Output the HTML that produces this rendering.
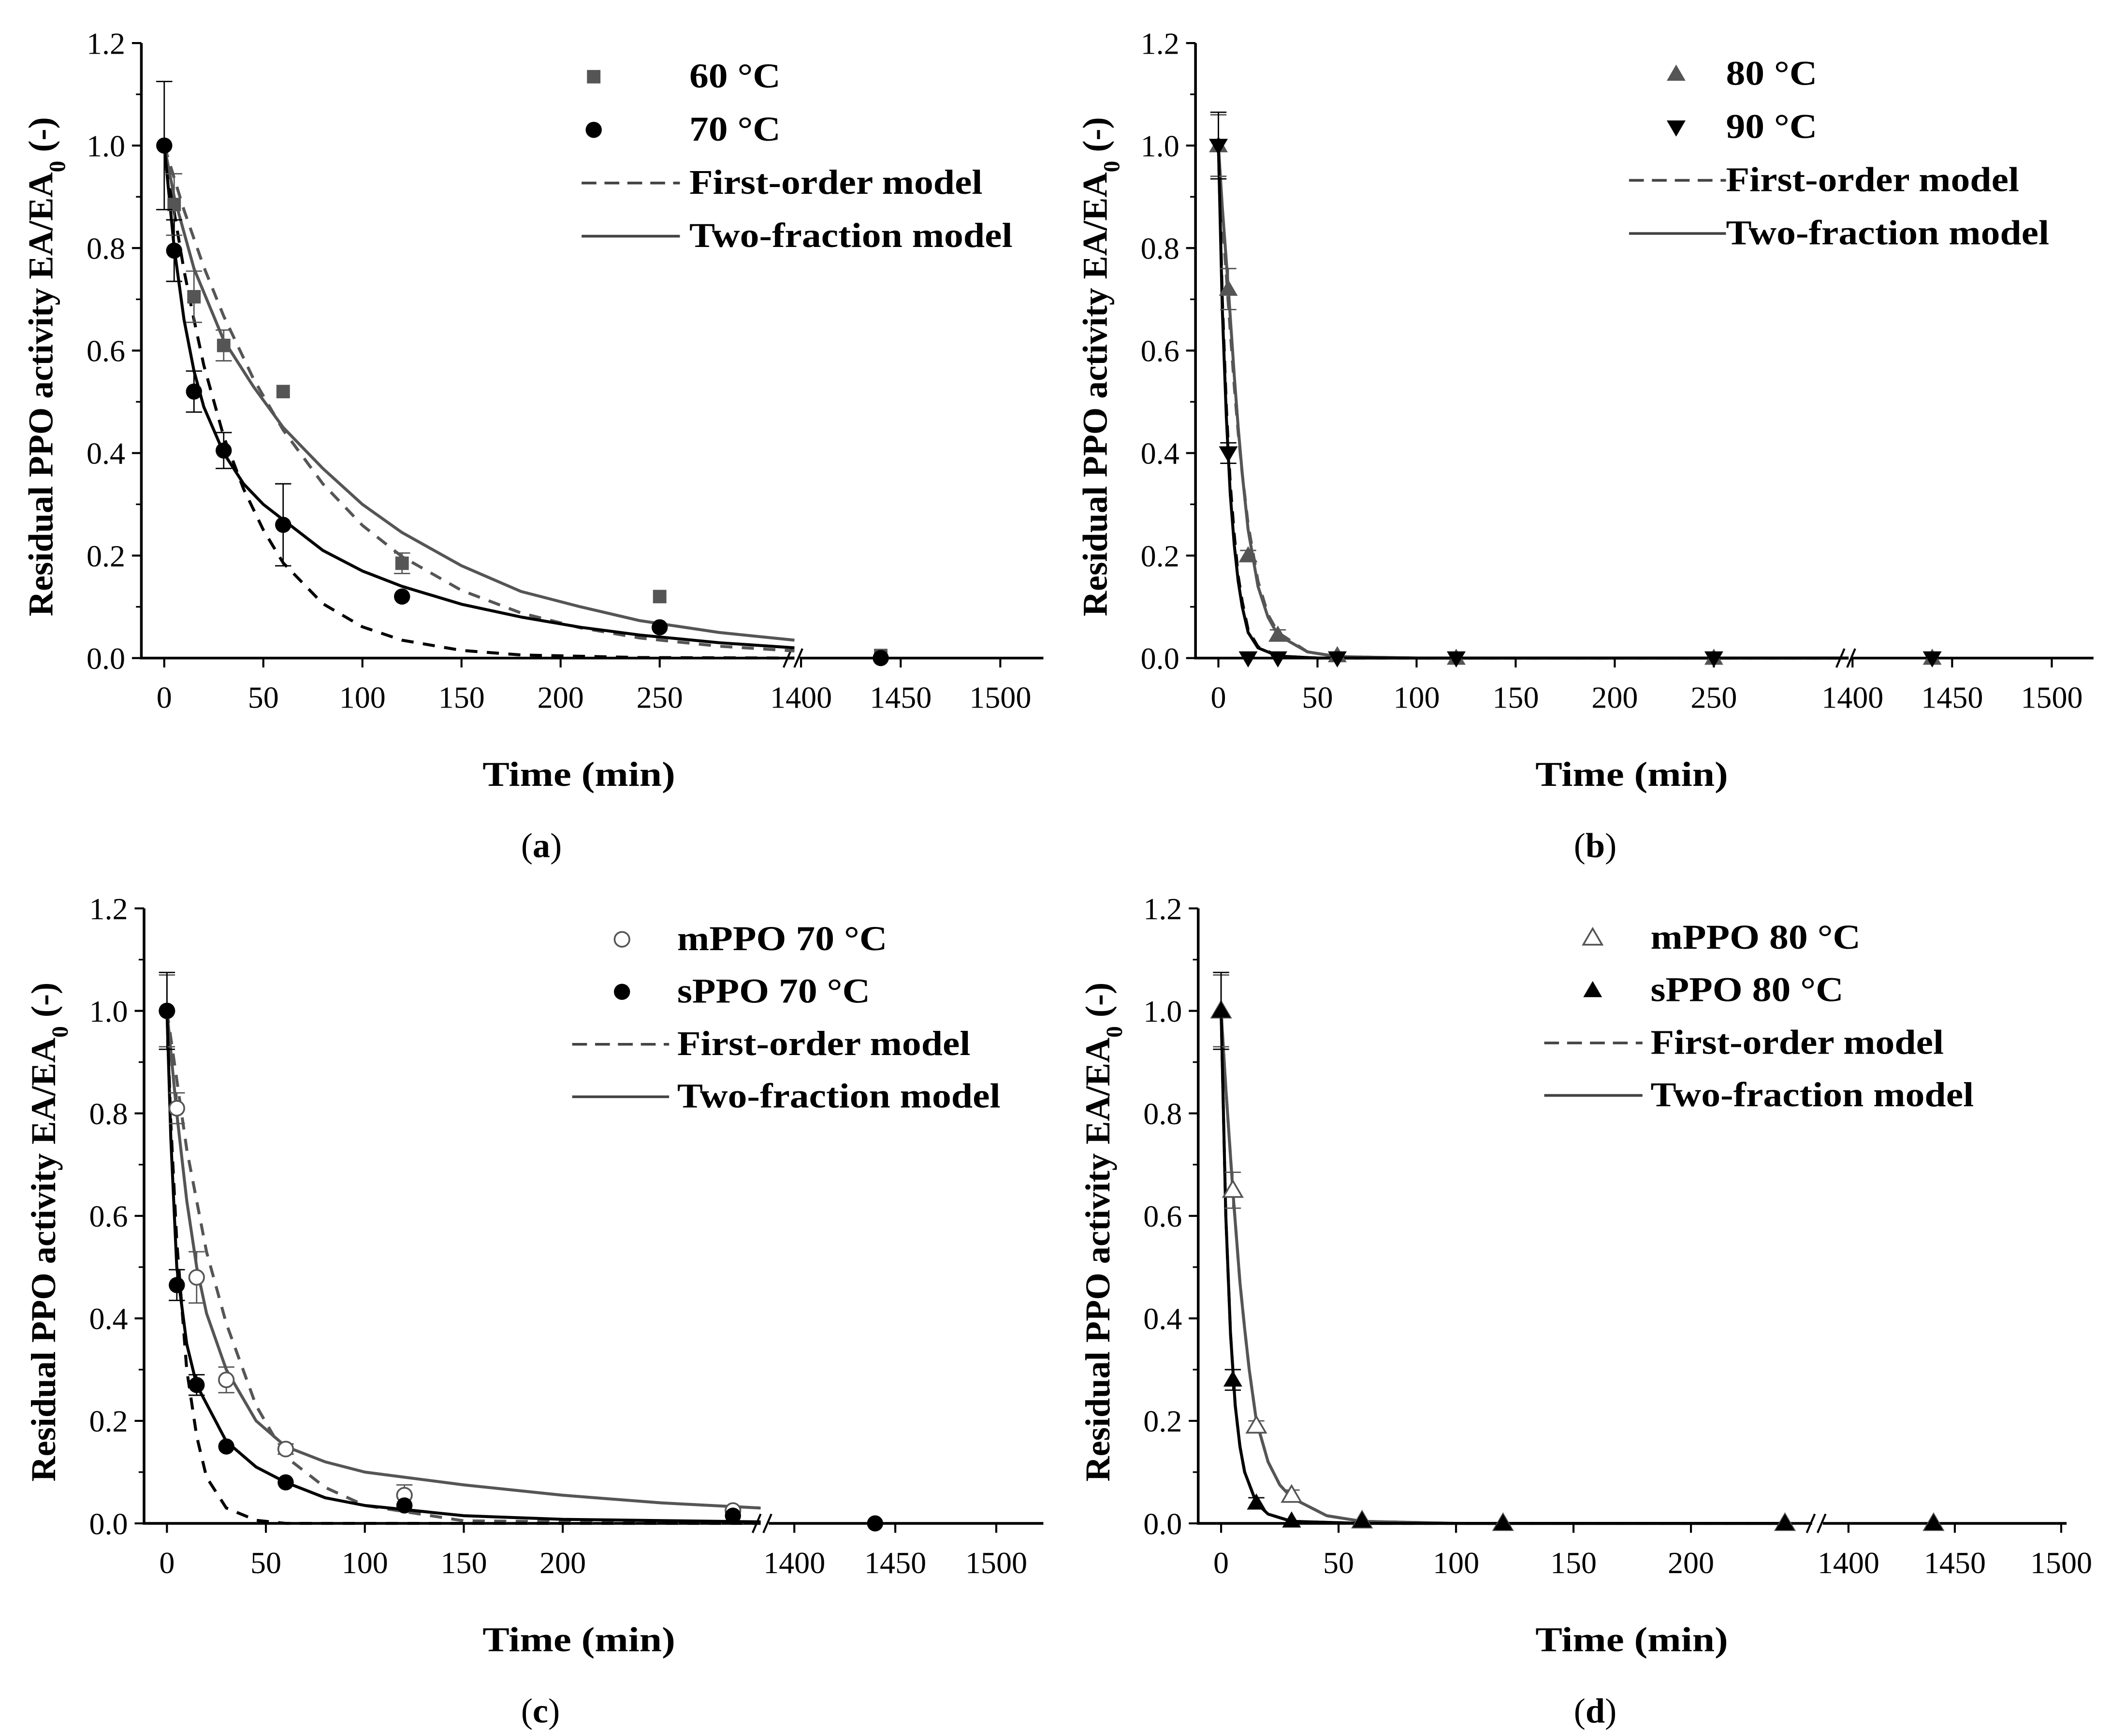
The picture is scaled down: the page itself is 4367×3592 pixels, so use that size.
<!DOCTYPE html>
<html><head><meta charset="utf-8">
<style>
html,body{margin:0;padding:0;background:#fff;}
svg{display:block;}
text{font-family:"Liberation Serif",serif;}
</style></head>
<body>
<svg id="fig" width="4367" height="3592" viewBox="0 0 1568 1290" preserveAspectRatio="none" xmlns="http://www.w3.org/2000/svg"></svg>
<script>
// ---------- DATA ----------
const aTimes60=[5,15,30,60,120,250,1440];
const aVals60=[0.885,0.705,0.61,0.52,0.185,0.12,0.005];
const aErr60=[0.06,0.05,0.03,0,0.02,0,0];
const aTimes70=[0,5,15,30,60,120,250,1440];
const aVals70=[1.0,0.795,0.52,0.405,0.26,0.12,0.06,0.0];
const aErr70=[0.125,0.06,0.04,0.035,0.08,0,0,0];
const aFoT60=[0,10,20,30,45,60,80,100,120,150,180,210,240,280,318];
const aFoV60=[1,.874,.763,.667,.545,.445,.34,.259,.198,.132,.088,.059,.039,.023,.014];
const aFoT70=[0,5,10,15,20,30,40,50,60,80,100,120,150,180,240,318];
const aFoV70=[1,.87,.756,.66,.571,.432,.33,.25,.186,.106,.061,.035,.015,.006,.001,0];
const aTfT60=[0,5,15,30,45,60,80,100,120,150,180,210,240,280,318];
const aTfV60=[1,.9,.76,.62,.53,.45,.37,.3,.245,.18,.13,.1,.073,.05,.035];
const aTfT70=[0,5,10,15,20,30,40,50,60,80,100,120,150,180,210,240,280,318];
const aTfV70=[1,.8,.66,.56,.49,.4,.34,.3,.27,.21,.17,.14,.105,.08,.06,.045,.03,.02];

const bTimes80=[0,5,15,30,60,120,250,1440];
const bVals80=[1.0,0.72,0.2,0.045,0.005,0,0,0];
const bErr80=[0.06,0.04,0.01,0.01,0,0,0,0];
const bTimes90=[0,5,15,30,60,120,250,1440];
const bVals90=[1.0,0.4,0.0,0.0,0,0,0,0];
const bErr90=[0.065,0.02,0,0,0,0,0,0];
const bTfT80=[0,2,5,8,10,12,15,20,25,30,45,60,100,318];
const bTfV80=[1,.88,.72,.55,.45,.36,.25,.14,.08,.045,.012,.003,0,0];
const bTfT90=[0,2,4,6,8,10,12,15,20,30,50,318];
const bTfV90=[1,.68,.47,.32,.22,.15,.1,.05,.02,.004,0,0];
const bFoV80=[1,.86,.69,.53,.44,.36,.26,.15,.085,.05,.012,.003,0,0];
const bFoV90=[1,.7,.49,.34,.24,.16,.11,.055,.022,.004,0,0];

const cTimesM=[0,5,15,30,60,120,286];
const cValsM=[1.0,0.81,0.48,0.28,0.145,0.055,0.025];
const cErrM=[0.07,0.03,0.05,0.025,0.01,0.02,0];
const cTimesS=[0,5,15,30,60,120,286,1440];
const cValsS=[1.0,0.465,0.27,0.15,0.08,0.035,0.015,0.0];
const cErrS=[0.075,0.03,0.02,0,0,0,0,0];
const cTfTM=[0,5,10,15,20,30,45,60,80,100,150,200,250,300];
const cTfVM=[1,.8,.63,.5,.41,.3,.2,.15,.12,.1,.075,.055,.04,.03];
const cFoTM=[0,10,20,30,45,60,80,100,150,300];
const cFoVM=[1,.73,.53,.39,.23,.13,.07,.035,.005,0];
const cTfTS=[0,2,5,10,15,30,45,60,80,100,150,200,300];
const cTfVS=[1,.75,.5,.35,.27,.16,.11,.08,.05,.035,.015,.008,.003];
const cFoTS=[0,2,5,10,15,20,30,45,60,300];
const cFoVS=[1,.78,.55,.3,.17,.09,.03,.006,0,0];

const dTimesM=[0,5,15,30,60,120,240,1440];
const dValsM=[1.0,0.65,0.19,0.055,0.005,0,0,0];
const dErrM=[0.07,0.035,0.01,0.01,0,0,0,0];
const dTimesS=[0,5,15,30,60,120,240,1440];
const dValsS=[1.0,0.28,0.04,0.005,0.005,0,0,0];
const dErrS=[0.075,0.02,0.01,0,0,0,0,0];
const dTfTM=[0,2,5,8,10,12,15,20,25,30,45,60,100,240];
const dTfVM=[1,.85,.65,.47,.38,.3,.2,.12,.075,.05,.015,.004,0,0];
const dTfTS=[0,2,4,6,8,10,15,20,30,60,240];
const dTfVS=[1,.6,.37,.23,.15,.1,.04,.018,.004,0,0];

const yTicks=[0,0.2,0.4,0.6,0.8,1.0,1.2];
const postTicks=[1400,1450,1500];

// ---------- helpers ----------
const NS="http://www.w3.org/2000/svg";
const svg=document.getElementById('fig');
function mk(tag,at,parent){const e=document.createElementNS(NS,tag);for(const k in at)e.setAttribute(k,at[k]);(parent||svg).appendChild(e);return e;}
function widen(t,f){const L=t.getComputedTextLength();t.setAttribute('textLength',(L*f).toFixed(1));t.setAttribute('lengthAdjust','spacingAndGlyphs');}

function panel(P){
  const g=mk('g',{});
  
  
  const X=t=> t<1000 ? P.x0+t*P.k : P.x1400+(t-1400)*P.k2;
  const Y=v=> P.y0-(v/1.2)*(P.y0-P.y12);
  P.X=X;P.Y=Y;
  const ax=mk('path',{d:`M${P.axL},${P.y12} V${P.y0} H${P.brk-4} M${P.brk+4},${P.y0} H${P.axR}`,stroke:'#000','stroke-width':2,fill:'none'},g);
  
  
  mk('path',{d:`M${P.brk-8},${P.y0+7} l6,-14 M${P.brk},${P.y0+7} l6,-14`,stroke:'#000','stroke-width':1.5},g);
  yTicks.forEach(v=>{
    mk('line',{x1:P.axL-7,x2:P.axL,y1:Y(v),y2:Y(v),stroke:'#000','stroke-width':1.5},g);
    if(v<1.2) mk('line',{x1:P.axL-4,x2:P.axL,y1:Y(v+0.1),y2:Y(v+0.1),stroke:'#000','stroke-width':1.2},g);
    const t=mk('text',{x:P.axL-12,y:Y(v)+8,'text-anchor':'end','font-size':23},g);
    t.textContent=v.toFixed(1);
    
    
  });
  const ticks=P.preTicks.concat(postTicks);
  ticks.forEach(tv=>{
    const x=X(tv);
    mk('line',{x1:x,x2:x,y1:P.y0,y2:P.y0+7,stroke:'#000','stroke-width':1.5},g);
    const t=mk('text',{x:x,y:P.y0+37,'text-anchor':'middle','font-size':23},g);
    t.textContent=String(tv);
    
    
  });
  const xt=mk('text',{x:P.xTitle,y:P.y0+95,'text-anchor':'middle','font-size':26,'font-weight':'bold'},g);
  xt.textContent='Time (min)';
  
  
  widen(xt,1.15);
  const yt=mk('text',{transform:`translate(${P.axL-66},${(P.y0+P.y12)/2+12}) rotate(-90)`,'text-anchor':'middle','font-size':26,'font-weight':'bold'},g);
  yt.innerHTML='Residual PPO activity EA/EA<tspan baseline-shift="sub" font-size="17">0</tspan> (-)';
  
  
  const cap=mk('text',{x:P.xTitle-43,y:P.y0+148,'font-size':26},g);
  cap.innerHTML='(<tspan font-weight="bold">'+P.cap+'</tspan>)';
  
  
  P.g=g;
  return P;
}
function curve(P,ts,vs,color,dash,name,w){
  const d=ts.map((t,i)=>(i?'L':'M')+P.X(t).toFixed(1)+','+P.Y(vs[i]).toFixed(1)).join(' ');
  const p=mk('path',{d:d,fill:'none',stroke:color,'stroke-width':w||2.2,'stroke-dasharray':dash?'9,7':'none','stroke-linejoin':'round'},P.g);
  
  
}
function marker(P,shape,x,y,color,parent){
  const s=7;
  if(shape==='sq') return mk('rect',{x:x-5,y:y-5,width:10,height:10,fill:color},parent);
  if(shape==='circ') return mk('circle',{cx:x,cy:y,r:6,fill:color},parent);
  if(shape==='ocirc') return mk('circle',{cx:x,cy:y,r:5.5,fill:'#fff',stroke:color,'stroke-width':1.3},parent);
  if(shape==='tri') return mk('path',{d:`M${x},${y-s} L${x+s},${y+5} L${x-s},${y+5}Z`,fill:color},parent);
  if(shape==='otri') return mk('path',{d:`M${x},${y-s} L${x+s},${y+5} L${x-s},${y+5}Z`,fill:'#fff',stroke:color,'stroke-width':1.3},parent);
  if(shape==='dtri') return mk('path',{d:`M${x},${y+s} L${x+s},${y-5} L${x-s},${y-5}Z`,fill:color},parent);
}
function series(P,ts,vs,es,shape,color,name){
  ts.forEach((t,i)=>{
    const x=P.X(t),y=P.Y(vs[i]);
    if(es[i]>0){
      const y1=P.Y(vs[i]+es[i]),y2=P.Y(vs[i]-es[i]);
      mk('path',{d:`M${x},${y1} V${y2} M${x-6},${y1} H${x+6} M${x-6},${y2} H${x+6}`,stroke:color,'stroke-width':1},P.g);
    }
    const m=marker(P,shape,x,y,color,P.g);
    
    
  });
}
function legend(P,items){
  items.forEach((it,i)=>{
    const y=P.legY+i*P.legDy;
    if(it.shape){
      const m=marker(P,it.shape,P.legM,y-8,it.color,P.g);
      
      
    } else {
      mk('line',{x1:P.legL1,x2:P.legL2,y1:y-8,y2:y-8,stroke:it.color,'stroke-width':2,'stroke-dasharray':it.dash?'11,6':'none'},P.g);
    }
    const t=mk('text',{x:P.legT,y:y,'font-size':26,'font-weight':'bold'},P.g);
    t.textContent=it.label;
    
    
    widen(t,1.1);
  });
}
const G='#555',B='#000';
const modelItems=[{label:'First-order model',dash:true,color:'#444'},{label:'Two-fraction model',dash:false,color:'#444'}];

const A=panel({name:'panel-a',cap:'a',x0:122,k:1.472,brk:590,x1400:595,k2:1.48,axL:105,axR:775,y0:489,y12:32,preTicks:[0,50,100,150,200,250],xTitle:430,
  legY:65,legDy:39.5,legM:441,legT:512,legL1:432,legL2:505});
curve(A,aFoT60,aFoV60,G,true,'first-order-60');
curve(A,aFoT70,aFoV70,B,true,'first-order-70');
curve(A,aTfT60,aTfV60,G,false,'two-fraction-60');
curve(A,aTfT70,aTfV70,B,false,'two-fraction-70');
series(A,aTimes60,aVals60,aErr60,'sq',G,'point-60c');
series(A,aTimes70,aVals70,aErr70,'circ',B,'point-70c');
legend(A,[{label:'60 °C',shape:'sq',color:G},{label:'70 °C',shape:'circ',color:B}].concat(modelItems));

const Bp=panel({name:'panel-b',cap:'b',x0:905,k:1.472,brk:1372,x1400:1376,k2:1.48,axL:888,axR:1555,y0:489,y12:32,preTicks:[0,50,100,150,200,250],xTitle:1212,
  legY:63,legDy:39.5,legM:1245,legT:1282,legL1:1210,legL2:1282});
curve(Bp,bTfT80,bFoV80,G,true,'first-order-80');
curve(Bp,bTfT90,bFoV90,B,true,'first-order-90');
curve(Bp,bTfT80,bTfV80,G,false,'two-fraction-80');
curve(Bp,bTfT90,bTfV90,B,false,'two-fraction-90');
series(Bp,bTimes80,bVals80,bErr80,'tri',G,'point-80c');
series(Bp,bTimes90,bVals90,bErr90,'dtri',B,'point-90c');
legend(Bp,[{label:'80 °C',shape:'tri',color:G},{label:'90 °C',shape:'dtri',color:B}].concat(modelItems));

const C=panel({name:'panel-c',cap:'c',x0:124,k:1.47,brk:567,x1400:590,k2:1.5,axL:107,axR:775,y0:1132,y12:675,preTicks:[0,50,100,150,200],xTitle:430,
  legY:706,legDy:39,legM:462,legT:503,legL1:425,legL2:497});
curve(C,cFoTM,cFoVM,G,true,'first-order-mppo70');
curve(C,cFoTS,cFoVS,B,true,'first-order-sppo70');
curve(C,cTfTM,cTfVM,G,false,'two-fraction-mppo70');
curve(C,cTfTS,cTfVS,B,false,'two-fraction-sppo70');
series(C,cTimesM,cValsM,cErrM,'ocirc',G,'point-mppo70');
series(C,cTimesS,cValsS,cErrS,'circ',B,'point-sppo70');
legend(C,[{label:'mPPO 70 °C',shape:'ocirc',color:G},{label:'sPPO 70 °C',shape:'circ',color:B}].concat(modelItems));

const D=panel({name:'panel-d',cap:'d',x0:907,k:1.745,brk:1350,x1400:1373,k2:1.58,axL:890,axR:1535,y0:1132,y12:675,preTicks:[0,50,100,150,200],xTitle:1212,
  legY:705,legDy:39,legM:1183,legT:1226,legL1:1147,legL2:1220});
curve(D,dTfTM,dTfVM,G,true,'first-order-mppo80');
curve(D,dTfTS,dTfVS,B,true,'first-order-sppo80');
curve(D,dTfTM,dTfVM,G,false,'two-fraction-mppo80');
curve(D,dTfTS,dTfVS,B,false,'two-fraction-sppo80');
series(D,dTimesM,dValsM,dErrM,'otri',G,'point-mppo80');
series(D,dTimesS,dValsS,dErrS,'tri',B,'point-sppo80');
legend(D,[{label:'mPPO 80 °C',shape:'otri',color:G},{label:'sPPO 80 °C',shape:'tri',color:B}].concat(modelItems));
</script>
</body></html>
